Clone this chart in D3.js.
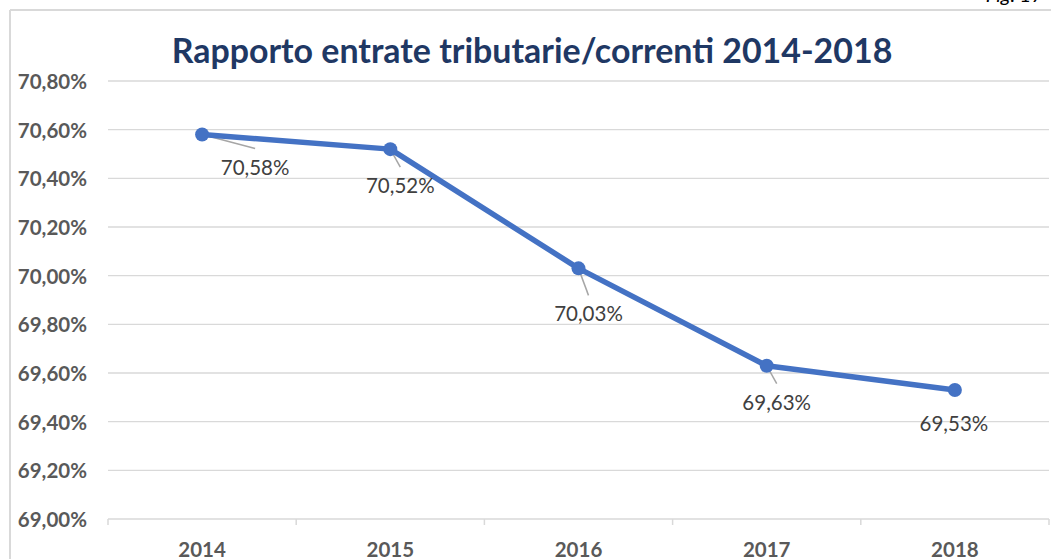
<!DOCTYPE html>
<html>
<head>
<meta charset="utf-8">
<script src="https://cdn.jsdelivr.net/npm/d3@7"></script>
<style>
  html, body { margin: 0; padding: 0; background: #ffffff; }
  svg { display: block; }
</style>
</head>
<body>
<svg id="chart" width="1051" height="559"></svg>
<script>
// Ratio of tax revenue to current revenue, 2014-2018
const years = ["2014", "2015", "2016", "2017", "2018"];
const ratios = [70.58, 70.52, 70.03, 69.63, 69.53];
const yTicks = [69.0, 69.2, 69.4, 69.6, 69.8, 70.0, 70.2, 70.4, 70.6, 70.8];
const titleText = "Rapporto entrate tributarie/correnti 2014-2018";
const figText = "Fig. 17";

// Where each value label sits relative to its point (px), and whether it gets a leader line
const labelOffsets = [[53, 40], [10, 44], [10, 53], [10, 44], [-1, 41]];
const hasLeader = [true, true, true, true, false];

const W = 1051, H = 559;
const plot = { left: 108, right: 1049, top: 81, bottom: 519 };

const svg = d3.select("#chart");
const itFmt = v => v.toFixed(2).replace(".", ",") + "%";

const x = d3.scaleBand().domain(years).range([plot.left, plot.right]).padding(0);
const y = d3.scaleLinear().domain([69.0, 70.8]).range([plot.bottom, plot.top]);

// Frame of the figure box
svg.append("line").attr("x1", 10).attr("x2", W).attr("y1", 10).attr("y2", 10)
  .attr("stroke", "#d9d9d9").attr("stroke-width", 2);
svg.append("line").attr("x1", 10).attr("x2", 10).attr("y1", 10).attr("y2", H)
  .attr("stroke", "#d9d9d9").attr("stroke-width", 2);

// Figure number, mostly above the frame
svg.append("text").attr("x", 1043).attr("y", 2).attr("text-anchor", "end")
  .attr("font-family", "Lato, sans-serif").attr("font-style", "italic")
  .attr("font-size", 20).attr("fill", "#000").text(figText);

// Horizontal gridlines
svg.append("g").selectAll("line").data(yTicks.filter(t => t > 69.0)).join("line")
  .attr("x1", plot.left).attr("x2", plot.right)
  .attr("y1", d => y(d)).attr("y2", d => y(d))
  .attr("stroke", "#d9d9d9").attr("stroke-width", 1.3);

// Y axis labels
const yAxis = d3.axisLeft(y).tickValues(yTicks).tickFormat(itFmt).tickSize(0).tickPadding(0);
const gy = svg.append("g").attr("transform", "translate(87,0)").call(yAxis);
gy.select(".domain").remove();
gy.selectAll("text")
  .attr("font-family", "Lato, sans-serif").attr("font-weight", "bold")
  .attr("font-size", 20.5).attr("fill", "#595959").attr("dy", "0.36em");

// X axis with tick marks at category boundaries
const gx = svg.append("g").attr("transform", `translate(0,${plot.bottom})`);
gx.append("line").attr("x1", plot.left).attr("x2", plot.right).attr("y1", 0).attr("y2", 0)
  .attr("stroke", "#d9d9d9").attr("stroke-width", 1.5);
const bounds = years.map(d => x(d)).concat([x(years[years.length - 1]) + x.bandwidth()]);
gx.selectAll("line.tk").data(bounds).join("line").attr("class", "tk")
  .attr("x1", d => d).attr("x2", d => d).attr("y1", 0).attr("y2", 6)
  .attr("stroke", "#d9d9d9").attr("stroke-width", 1.5);
gx.selectAll("text").data(years).join("text")
  .attr("x", d => x(d) + x.bandwidth() / 2).attr("y", 38)
  .attr("text-anchor", "middle")
  .attr("font-family", "Lato, sans-serif").attr("font-weight", "bold")
  .attr("font-size", 20.5).attr("fill", "#595959").text(d => d);

// Title, sized to its measured span
const title = svg.append("text").attr("x", 532).attr("y", 63).attr("text-anchor", "middle")
  .attr("font-family", "Lato, sans-serif").attr("font-weight", "bold")
  .attr("font-size", 30).attr("fill", "#1f3864").text(titleText);
const tw = title.node().getComputedTextLength();
title.attr("font-size", 30 * 721 / tw);

// Series
const cx = d => x(d) + x.bandwidth() / 2;
const pts = years.map((d, i) => ({ year: d, v: ratios[i], off: labelOffsets[i], lead: hasLeader[i] }));

// Leader lines from points toward value labels
svg.append("g").selectAll("line").data(pts.filter(d => d.lead)).join("line")
  .attr("x1", d => cx(d.year)).attr("y1", d => y(d.v))
  .attr("x2", d => cx(d.year) + d.off[0])
  .attr("y2", d => y(d.v) + d.off[1] - 26)
  .attr("stroke", "#a6a6a6").attr("stroke-width", 1.5);

svg.append("path").datum(pts)
  .attr("d", d3.line().x(d => cx(d.year)).y(d => y(d.v)))
  .attr("fill", "none").attr("stroke", "#4472c4").attr("stroke-width", 5.5)
  .attr("stroke-linejoin", "round");

svg.append("g").selectAll("circle").data(pts).join("circle")
  .attr("cx", d => cx(d.year)).attr("cy", d => y(d.v)).attr("r", 7)
  .attr("fill", "#4472c4");

// Value labels
svg.append("g").selectAll("text").data(pts).join("text")
  .attr("x", d => cx(d.year) + d.off[0]).attr("y", d => y(d.v) + d.off[1])
  .attr("text-anchor", "middle")
  .attr("font-family", "Lato, sans-serif").attr("font-size", 20.5)
  .attr("fill", "#404040").text(d => itFmt(d.v));
</script>
</body>
</html>
